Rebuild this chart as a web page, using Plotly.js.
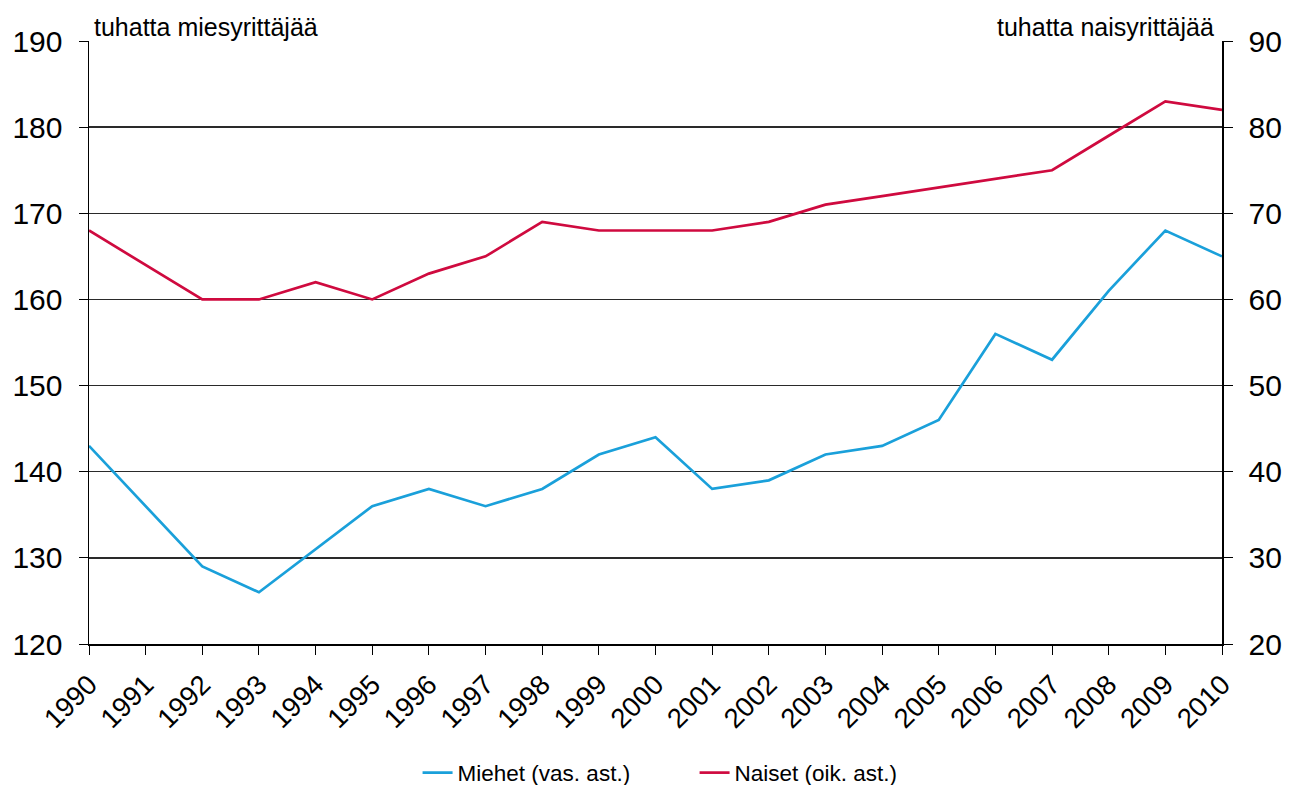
<!DOCTYPE html>
<html>
<head>
<meta charset="utf-8">
<script src="https://cdn.plot.ly/plotly-3.0.1.min.js"></script>
<style>html,body{margin:0;padding:0;background:#fff;}#chart{width:1298px;height:785px;}</style>
</head>
<body>
<div id="chart"></div>
<script>
const years = [1990,1991,1992,1993,1994,1995,1996,1997,1998,1999,2000,2001,2002,2003,2004,2005,2006,2007,2008,2009,2010];
const miehet = [143,136,129,126,131,136,138,136,138,142,144,138,139,142,143,146,156,153,161,168,165];
const naiset = [68,64,60,60,62,60,63,65,69,68,68,68,69,71,72,73,74,75,79,83,82];
const seriesNames = ['Miehet (vas. ast.)', 'Naiset (oik. ast.)'];
const leftTitle = 'tuhatta miesyrittäjää';
const rightTitle = 'tuhatta naisyrittäjää';

const FONT = 'Liberation Sans, Arial, sans-serif';

const traces = [
  {x: years, y: miehet, name: seriesNames[0], type: 'scatter', mode: 'lines',
   line: {color: '#1aa0da', width: 2.7}, yaxis: 'y'},
  {x: years, y: naiset, name: seriesNames[1], type: 'scatter', mode: 'lines',
   line: {color: '#cf0a3f', width: 2.7}, yaxis: 'y2'}
];

const layout = {
  width: 1298, height: 785,
  margin: {l: 89, r: 76, t: 41, b: 141},
  paper_bgcolor: '#fff', plot_bgcolor: '#fff',
  font: {family: FONT, color: '#000'},
  showlegend: true,
  legend: {orientation: 'h', x: 0.29, xanchor: 'left', yref: 'container', y: 0.0153, yanchor: 'middle',
           font: {size: 22.5, family: FONT}, entrywidth: 232, entrywidthmode: 'pixels',
           bgcolor: 'rgba(0,0,0,0)'},
  xaxis: {range: [1990, 2010], tickmode: 'array', tickvals: years, ticktext: years.map(String),
          tickangle: -45, tickfont: {size: 27.5, family: FONT}, automargin: false,
          ticks: 'outside', ticklen: 9, tickcolor: '#000', tickwidth: 1, ticklabelstandoff: 3,
          showline: true, linecolor: '#000', linewidth: 1.5, showgrid: false, zeroline: false},
  yaxis: {range: [120, 190], dtick: 10, tick0: 120, tickfont: {size: 30, family: FONT}, automargin: false,
          ticks: 'outside', ticklen: 9, tickcolor: '#000', ticklabelstandoff: 10,
          showline: true, linecolor: '#000', linewidth: 1.5,
          showgrid: true, gridcolor: '#2a2a2a', gridwidth: 1.5, zeroline: false},
  yaxis2: {range: [20, 90], dtick: 10, tick0: 20, overlaying: 'y', side: 'right', automargin: false,
           tickfont: {size: 30, family: FONT},
           ticks: 'outside', ticklen: 9, tickcolor: '#000', ticklabelstandoff: 10,
           showline: true, linecolor: '#000', linewidth: 1.5, showgrid: false, zeroline: false},
  annotations: [
    {text: leftTitle, xref: 'paper', yref: 'paper', x: 0.003, y: 1.0, xanchor: 'left', yanchor: 'bottom',
     showarrow: false, font: {size: 25, family: FONT, color: '#000'}, yshift: -2},
    {text: rightTitle, xref: 'paper', yref: 'paper', x: 0.995, y: 1.0, xanchor: 'right', yanchor: 'bottom',
     showarrow: false, font: {size: 25, family: FONT, color: '#000'}, yshift: -2}
  ]
};

Plotly.newPlot('chart', traces, layout, {displayModeBar: false, staticPlot: true});
</script>
</body>
</html>
